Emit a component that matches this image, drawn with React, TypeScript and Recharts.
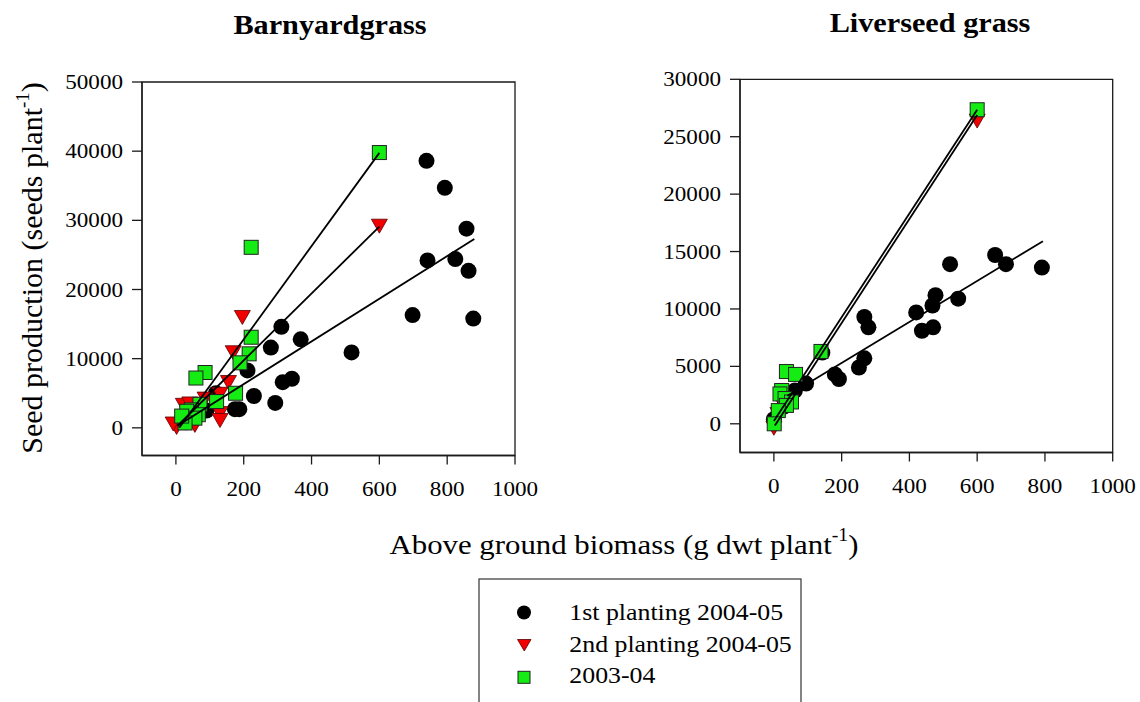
import { ScatterChart, Scatter, XAxis, YAxis, ReferenceArea } from "recharts";

const FONT = "'Liberation Serif', 'Times New Roman', serif";
const STRETCH = 1.1;
const GREEN = "#14ec14";
const RED = "#f20000";
const INK = "#1a1a1a";

type Pt = { x: number; y: number };

// Barnyardgrass
const barnyard1st: Pt[] = [
  { x: 739, y: 38600 }, { x: 793, y: 34700 }, { x: 857, y: 28800 },
  { x: 742, y: 24200 }, { x: 824, y: 24400 }, { x: 863, y: 22700 },
  { x: 698, y: 16300 }, { x: 877, y: 15800 }, { x: 518, y: 10900 },
  { x: 311, y: 14600 }, { x: 368, y: 12800 }, { x: 280, y: 11600 },
  { x: 211, y: 8300 }, { x: 342, y: 7100 }, { x: 315, y: 6600 },
  { x: 230, y: 4600 }, { x: 293, y: 3600 }, { x: 187, y: 2700 },
  { x: 174, y: 2700 }, { x: 118, y: 5000 }, { x: 90, y: 2500 },
  { x: 30, y: 800 },
];
const barnyard2nd: Pt[] = [
  { x: 600, y: 29300 }, { x: 196, y: 16100 }, { x: 169, y: 11000 },
  { x: 155, y: 6700 }, { x: 130, y: 5000 }, { x: 86, y: 4300 },
  { x: 130, y: 2200 }, { x: 130, y: 1200 }, { x: 22, y: 3400 },
  { x: 41, y: 3600 }, { x: 56, y: 500 }, { x: 2, y: 200 }, { x: -8, y: 700 },
];
const barnyard0304: Pt[] = [
  { x: 600, y: 39800 }, { x: 222, y: 26100 }, { x: 222, y: 13100 },
  { x: 216, y: 10700 }, { x: 189, y: 9400 }, { x: 86, y: 8000 },
  { x: 59, y: 7200 }, { x: 176, y: 5000 }, { x: 120, y: 3800 },
  { x: 71, y: 3400 }, { x: 46, y: 2600 }, { x: 66, y: 1900 },
  { x: 32, y: 2400 }, { x: 56, y: 1400 }, { x: 27, y: 700 }, { x: 17, y: 1700 },
];
const barnyardFit1st: Pt[] = [{ x: 5, y: 300 }, { x: 880, y: 27300 }];
const barnyardFit2nd: Pt[] = [{ x: 5, y: 300 }, { x: 600, y: 29100 }];
const barnyardFit0304: Pt[] = [{ x: 10, y: 0 }, { x: 600, y: 39750 }];

// Liverseed grass
const liver1st: Pt[] = [
  { x: 791, y: 13600 }, { x: 653, y: 14700 }, { x: 685, y: 13900 },
  { x: 520, y: 13900 }, { x: 544, y: 10900 }, { x: 477, y: 11200 },
  { x: 468, y: 10300 }, { x: 420, y: 9700 }, { x: 470, y: 8400 },
  { x: 437, y: 8100 }, { x: 267, y: 9300 }, { x: 279, y: 8400 },
  { x: 267, y: 5700 }, { x: 251, y: 4900 }, { x: 180, y: 4300 },
  { x: 192, y: 3900 }, { x: 143, y: 6200 }, { x: 95, y: 3500 },
  { x: 62, y: 2900 }, { x: 50, y: 2400 }, { x: 30, y: 1500 }, { x: 0, y: 400 },
];
const liver2nd: Pt[] = [
  { x: 600, y: 26450 }, { x: 0, y: -300 }, { x: 12, y: 900 }, { x: 25, y: 1800 },
];
const liver0304: Pt[] = [
  { x: 600, y: 27350 }, { x: 139, y: 6300 }, { x: 37, y: 4550 },
  { x: 64, y: 4300 }, { x: 23, y: 2900 }, { x: 18, y: 2600 },
  { x: 33, y: 2200 }, { x: 52, y: 1900 }, { x: 37, y: 1600 },
  { x: 13, y: 1150 }, { x: 1, y: 0 },
];
const liverFit1st: Pt[] = [{ x: 40, y: 2450 }, { x: 794, y: 15900 }];
const liverFit2nd: Pt[] = [{ x: 3, y: -150 }, { x: 600, y: 26900 }];
const liverFit0304: Pt[] = [{ x: 0, y: 250 }, { x: 600, y: 27350 }];

const xTicks = [0, 200, 400, 600, 800, 1000];
const barnyardYTicks = [0, 10000, 20000, 30000, 40000, 50000];
const liverYTicks = [0, 5000, 10000, 15000, 20000, 25000, 30000];

const legendItems = ["1st planting 2004-05", "2nd planting 2004-05", "2003-04"];

// marker shapes
const Dot = (p: any) => <circle cx={p.cx} cy={p.cy} r={8} fill="#000" />;
const DownTri = (p: any) => (
  <polygon
    points={`${p.cx - 8},${p.cy - 6} ${p.cx + 8},${p.cy - 6} ${p.cx},${p.cy + 8}`}
    fill={RED}
    stroke="#5a0000"
    strokeWidth={0.8}
  />
);
const Square = (p: any) => (
  <rect x={p.cx - 7} y={p.cy - 7} width={14} height={14} fill={GREEN} stroke="#222" strokeWidth={1} />
);
const NoMark = () => <g />;

function YTick({ x, y, payload }: any) {
  return (
    <g transform={`translate(${x},${y}) scale(${STRETCH},1)`}>
      <text x={0} y={0} dy={7} textAnchor="end" fontFamily={FONT} fontSize={21} fill="#000">
        {payload.value}
      </text>
    </g>
  );
}

function XTick({ x, y, payload }: any) {
  return (
    <g transform={`translate(${x},${y}) scale(${STRETCH},1)`}>
      <text x={0} y={0} dy={15} textAnchor="middle" fontFamily={FONT} fontSize={21} fill="#000">
        {payload.value}
      </text>
    </g>
  );
}

const fitLine = { stroke: "#000", strokeWidth: 1.8 };

function Panel(props: {
  width: number;
  margin: { top: number; right: number; bottom: number; left: number };
  yAxisWidth: number;
  yDomain: [number, number];
  yTicks: number[];
  first: Pt[];
  second: Pt[];
  older: Pt[];
  fits: Pt[][];
}) {
  const { width, margin, yAxisWidth, yDomain, yTicks, first, second, older, fits } = props;
  return (
    <ScatterChart width={width} height={560} margin={margin}>
      <XAxis
        type="number"
        dataKey="x"
        domain={[-100, 1000]}
        ticks={xTicks}
        interval={0}
        height={60}
        allowDataOverflow
        tick={<XTick />}
        tickSize={9}
        tickMargin={16}
        axisLine={{ stroke: INK, strokeWidth: 1.3 }}
        tickLine={{ stroke: INK, strokeWidth: 1.3 }}
      />
      <YAxis
        type="number"
        dataKey="y"
        domain={yDomain}
        ticks={yTicks}
        interval={0}
        width={yAxisWidth}
        allowDataOverflow
        tick={<YTick />}
        tickSize={10}
        tickMargin={9}
        axisLine={{ stroke: INK, strokeWidth: 1.3 }}
        tickLine={{ stroke: INK, strokeWidth: 1.3 }}
      />
      <ReferenceArea
        x1={-100}
        x2={1000}
        y1={yDomain[0]}
        y2={yDomain[1]}
        fill="none"
        stroke={INK}
        strokeWidth={1.3}
        ifOverflow="visible"
      />
      <Scatter data={first} shape={Dot} isAnimationActive={false} />
      <Scatter data={second} shape={DownTri} isAnimationActive={false} />
      <Scatter data={older} shape={Square} isAnimationActive={false} />
      {fits.map((f, i) => (
        <Scatter key={i} data={f} shape={NoMark} line={fitLine} isAnimationActive={false} />
      ))}
    </ScatterChart>
  );
}

export default function App() {
  return (
    <div style={{ position: "absolute", left: 0, top: 0, width: 1140, height: 702, background: "#fff", overflow: "hidden" }}>
      <div style={{ position: "absolute", left: 0, top: 0 }}>
        <Panel
          width={560}
          margin={{ top: 82, right: 45, bottom: 44.5, left: 0 }}
          yAxisWidth={142}
          yDomain={[-4000, 50000]}
          yTicks={barnyardYTicks}
          first={barnyard1st}
          second={barnyard2nd}
          older={barnyard0304}
          fits={[barnyardFit1st, barnyardFit2nd, barnyardFit0304]}
        />
      </div>
      <div style={{ position: "absolute", left: 560, top: 0 }}>
        <Panel
          width={580}
          margin={{ top: 79.3, right: 27.3, bottom: 47.5, left: 0 }}
          yAxisWidth={180}
          yDomain={[-2500, 30000]}
          yTicks={liverYTicks}
          first={liver1st}
          second={liver2nd}
          older={liver0304}
          fits={[liverFit1st, liverFit2nd, liverFit0304]}
        />
      </div>
      <svg
        width={1140}
        height={702}
        style={{ position: "absolute", left: 0, top: 0, pointerEvents: "none" }}
        fontFamily={FONT}
      >
        <text transform={`translate(330,34) scale(${STRETCH},1)`} textAnchor="middle" fontSize={27.5} fontWeight="bold">
          Barnyardgrass
        </text>
        <text transform={`translate(930,32) scale(${STRETCH},1)`} textAnchor="middle" fontSize={27.5} fontWeight="bold">
          Liverseed grass
        </text>
        <text transform={`translate(624,554) scale(${STRETCH},1)`} textAnchor="middle" fontSize={28}>
          Above ground biomass (g dwt plant
          <tspan dy={-13} fontSize={18}>-1</tspan>
          <tspan dy={13}>)</tspan>
        </text>
        <text transform="translate(41.5,268) rotate(-90)" textAnchor="middle" fontSize={30}>
          Seed production (seeds plant
          <tspan dy={-13} fontSize={19}>-1</tspan>
          <tspan dy={13}>)</tspan>
        </text>

        <rect x={479} y={579} width={322} height={140} fill="none" stroke="#333" strokeWidth={1.2} />
        <circle cx={524} cy={612.5} r={7} fill="#000" />
        <polygon points="517.5,639.5 531,639.5 524.3,651" fill={RED} stroke="#5a0000" strokeWidth={0.8} />
        <rect x={518} y={671.3} width={12} height={12} fill={GREEN} stroke="#222" strokeWidth={1} />
        {legendItems.map((label, i) => (
          <text
            key={label}
            transform={`translate(569.3,${620 + i * 31.7}) scale(${STRETCH},1)`}
            fontSize={23.5}
          >
            {label}
          </text>
        ))}
      </svg>
    </div>
  );
}
